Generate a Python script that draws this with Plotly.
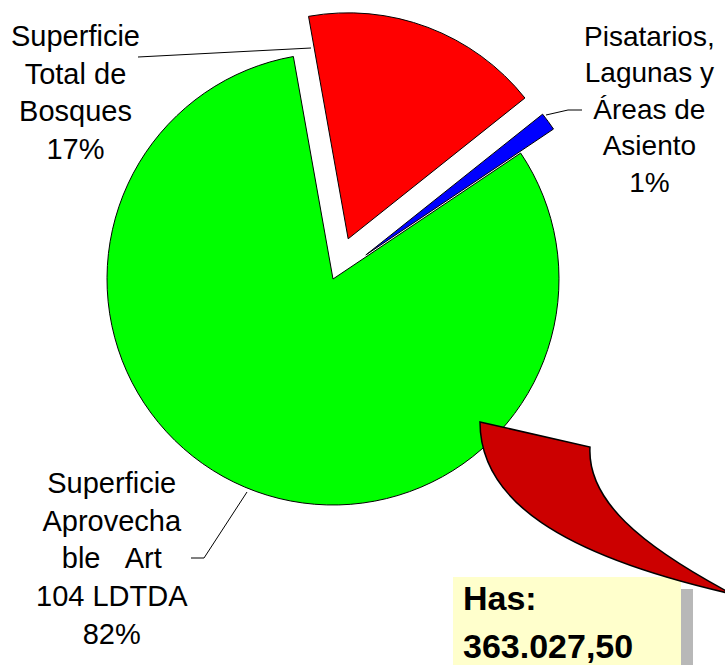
import plotly.graph_objects as go

W, H = 725, 665

categories = ["Superficie Total de Bosques",
              "Pisatarios, Lagunas y Áreas de Asiento",
              "Superficie Aprovechable Art 104 LDTDA"]
values = [17.1, 1.3, 81.6]
colors = ["#FF0000", "#0000FF", "#00FF00"]
pulls = [0.19, 0.18, 0.0]
label_texts = ["Superficie<br>Total de<br>Bosques<br>17%",
               "Pisatarios,<br>Lagunas y<br>Áreas de<br>Asiento<br>1%",
               "Superficie<br>Aprovecha<br>ble\u00a0\u00a0\u00a0Art<br>104 LDTDA<br>82%"]
total_text = ["Has:", "363.027,50"]

FONT = "Liberation Sans, Arial, sans-serif"


def px(x):
    return x / W


def py(y):
    return 1 - y / H


# pie geometry (pixels)
cx, cy, r, maxpull = 333, 279, 226, max(pulls)
half = r * (1 + maxpull)

fig = go.Figure()
fig.add_trace(go.Pie(
    labels=categories, values=values, sort=False, direction="clockwise",
    rotation=-10.1, pull=pulls, textinfo="none", hoverinfo="label+percent",
    marker=dict(colors=colors, line=dict(color="black", width=1)),
    domain=dict(x=[px(cx - half), px(cx + half)], y=[py(cy + half), py(cy - half)]),
    showlegend=False,
))

shapes = []
# leader lines
for pts in ([(138, 57), (311, 48)],
            [(546, 115), (568, 110), (582, 110)],
            [(247, 492), (204, 558), (191, 558)]):
    d = "M " + " L ".join(f"{px(x)},{py(y)}" for x, y in pts)
    shapes.append(dict(type="path", xref="paper", yref="paper", path=d,
                       line=dict(color="black", width=1)))

# yellow total box and grey bar
shapes.append(dict(type="rect", xref="paper", yref="paper",
                   x0=px(453), x1=px(681), y0=py(670), y1=py(577),
                   fillcolor="#FFFFCC", line=dict(width=0), layer="below"))
shapes.append(dict(type="rect", xref="paper", yref="paper",
                   x0=px(681), x1=px(693), y0=py(670), y1=py(589),
                   fillcolor="#B8B8B8", line=dict(width=0)))

# curved callout
def P(x, y):
    return f"{px(x)},{py(y)}"

callout = (f"M {P(480, 422)} L {P(590, 447)} "
           f"C {P(587, 500)} {P(640, 545)} {P(732, 594)} "
           f"C {P(560, 555)} {P(480, 500)} {P(480, 422)} Z")
shapes.append(dict(type="path", xref="paper", yref="paper", path=callout,
                   fillcolor="#CC0000", line=dict(color="black", width=1.5)))

annotations = []
for txt, (x, y), fs in zip(label_texts, [(75, 93), (649, 109), (112, 558)], [29, 28, 29]):
    annotations.append(dict(text=txt, x=px(x), y=py(y), xref="paper", yref="paper",
                             xanchor="center", yanchor="middle", showarrow=False,
                             align="center", font=dict(family=FONT, size=fs, color="black")))
for txt, y in zip(total_text, [598, 646]):
    annotations.append(dict(text=f"<b>{txt}</b>", x=px(461), y=py(y), xref="paper",
                            yref="paper", xanchor="left", yanchor="middle", showarrow=False,
                            font=dict(family=FONT, size=34, color="black")))

fig.update_layout(width=W, height=H, margin=dict(l=0, r=0, t=0, b=0),
                  paper_bgcolor="white", plot_bgcolor="white",
                  shapes=shapes, annotations=annotations)

fig.write_html("out.html", config={"displayModeBar": False},
               post_script="document.body.style.margin='0';document.body.style.overflow='hidden';")
